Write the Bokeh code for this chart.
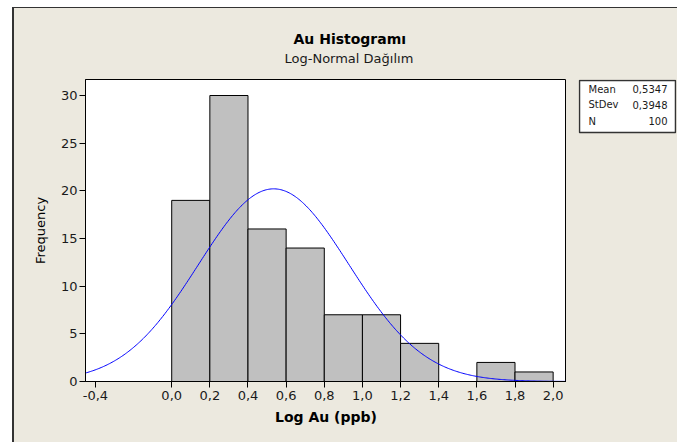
import numpy as np
from bokeh.plotting import figure
from bokeh.layouts import row, column
from bokeh.models import Title, FixedTicker, CustomJSTickFormatter, Spacer
from bokeh.embed import file_html
from bokeh.resources import INLINE

# Histogram of log-transformed Au values (bin width 0.2)
bin_edges = [0.0, 0.2, 0.4, 0.6, 0.8, 1.0, 1.2, 1.4, 1.6, 1.8, 2.0]
counts = [19, 30, 16, 14, 7, 7, 4, 0, 2, 1]

# Summary statistics shown in the side box
mean = 0.5347
stdev = 0.3948
n_obs = 100

x_ticks = [-0.4, 0.0, 0.2, 0.4, 0.6, 0.8, 1.0, 1.2, 1.4, 1.6, 1.8, 2.0]
y_ticks = [0, 5, 10, 15, 20, 25, 30]

FONT = "DejaVu Sans"
BEIGE = "#ECE9DF"
TXT = "#1a1a1a"
EDGE = "#333333"

X0, X1 = -0.452, 2.07
Y0, Y1 = 0.0, 31.68

TOP_B, BOT_B = 71, 61   # shared top / bottom borders so both frames line up

# ---- main histogram panel ----
p = figure(width=552, height=434, output_backend="svg", toolbar_location=None,
           x_range=(X0, X1), y_range=(Y0, Y1),
           min_border_left=71, min_border_right=0,
           min_border_top=TOP_B, min_border_bottom=BOT_B)
p.background_fill_color = "white"
p.border_fill_color = BEIGE
p.outline_line_color = "black"
p.outline_line_width = 1
p.xgrid.visible = False
p.ygrid.visible = False

p.quad(left=bin_edges[:-1], right=bin_edges[1:], top=counts, bottom=0,
       fill_color="#C0C0C0", line_color="black", line_width=1)

# fitted normal curve scaled to counts per bin
bw = bin_edges[1] - bin_edges[0]
xs = np.linspace(X0, X1, 400)
ys = n_obs * bw * np.exp(-0.5 * ((xs - mean) / stdev) ** 2) / (stdev * np.sqrt(2 * np.pi))
p.line(xs, ys, line_color="#0000FF", line_width=1)

for ax in (p.xaxis[0], p.yaxis[0]):
    ax.axis_line_color = "black"
    ax.major_tick_line_color = "black"
    ax.major_tick_in = 0
    ax.major_tick_out = 6
    ax.minor_tick_line_color = None
    ax.major_label_text_font = FONT
    ax.major_label_text_font_size = "13px"
    ax.major_label_text_color = TXT
    ax.axis_label_text_font = FONT
    ax.axis_label_text_color = "black"

p.xaxis.ticker = FixedTicker(ticks=x_ticks)
p.xaxis.formatter = CustomJSTickFormatter(code="return tick.toFixed(1).replace('.', ',');")
p.xaxis.major_label_standoff = 3
p.xaxis.axis_label = "Log Au (ppb)"
p.xaxis.axis_label_text_font_style = "bold"
p.xaxis.axis_label_text_font_size = "14px"
p.xaxis.axis_label_standoff = 6

p.yaxis.ticker = FixedTicker(ticks=y_ticks)
p.yaxis.major_label_standoff = 2
p.yaxis.axis_label = "Frequency"
p.yaxis.axis_label_text_font_style = "normal"
p.yaxis.axis_label_text_font_size = "13px"
p.yaxis.axis_label_standoff = 10

p.add_layout(Title(text="Log-Normal Dağılım", text_font=FONT, text_font_size="13px",
                   text_font_style="normal", text_color=TXT, align="left",
                   offset=199, standoff=27), "above")
p.add_layout(Title(text="Au Histogramı", text_font=FONT, text_font_size="14px",
                   text_font_style="bold", text_color="black", align="left",
                   offset=208, standoff=-23), "above")

# ---- statistics box (pixel-sized ranges so the box sits in the top corner) ----
s = figure(width=111, height=434, output_backend="svg", toolbar_location=None,
           x_range=(0, 98), y_range=(0, 302),
           min_border_left=12, min_border_right=1,
           min_border_top=TOP_B, min_border_bottom=BOT_B)
s.axis.visible = False
s.grid.visible = False
s.background_fill_color = BEIGE
s.border_fill_color = BEIGE
s.outline_line_color = None

s.quad(left=[1], right=[97], top=[301], bottom=[249],
       fill_color="white", line_color=EDGE, line_width=1.5)

stat_names = ["Mean", "StDev", "N"]
stat_values = [f"{mean:.4f}".replace(".", ","), f"{stdev:.4f}".replace(".", ","), f"{n_obs}"]
row_y = [292.5, 277, 260.5]
s.text(x=[10] * 3, y=row_y, text=stat_names, text_font={"value": FONT},
       text_font_size="10px", text_align="left", text_baseline="middle", text_color=TXT)
s.text(x=[89] * 3, y=row_y, text=stat_values, text_font={"value": FONT},
       text_font_size="10px", text_align="right", text_baseline="middle", text_color=TXT)

# window frame: white margin with a thin dark edge on the top and left
panels = row(p, s, spacing=0, styles={"background-color": BEIGE})
top_edge = Spacer(width=665, height=1, styles={"background-color": EDGE})
left_edge = Spacer(width=2, height=434, styles={"background-color": EDGE})
framed = column(top_edge, row(left_edge, panels, spacing=0), spacing=0)
page = column(Spacer(height=7), row(Spacer(width=12), framed, spacing=0), spacing=0)

open("out.html", "w").write(file_html(page, INLINE))
